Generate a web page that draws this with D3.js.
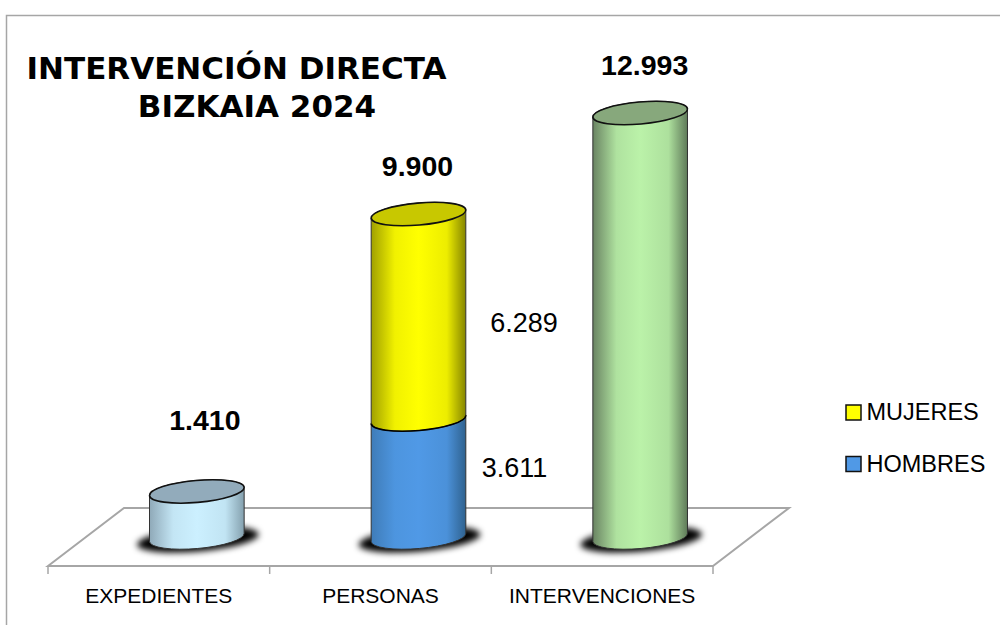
<!DOCTYPE html>
<html>
<head>
<meta charset="utf-8">
<script src="https://cdnjs.cloudflare.com/ajax/libs/d3/7.8.5/d3.min.js"></script>
<style>
  html, body { margin: 0; padding: 0; background: #fff; overflow: hidden; }
  text { fill: #000; }
</style>
</head>
<body>
<div id="chart"></div>
<script>
const categories = ['EXPEDIENTES', 'PERSONAS', 'INTERVENCIONES'];
const totals = [1410, 9900, 12993];
const hombres = [0, 3611, 0];
const mujeres = [0, 6289, 0];
const titleLines = ['INTERVENCIÓN DIRECTA', 'BIZKAIA 2024'];
const legendNames = ['MUJERES', 'HOMBRES'];

const fmt = v => d3.format(',')(v).replace(/,/g, '.');

const width = 1000, height = 625;
const svg = d3.select('#chart').append('svg')
    .attr('width', width)
    .attr('height', height)
    .style('display', 'block');

// side colours: edge left, centre, edge right, then the darker lid
const palette = {
    exp: ['#8fa9b8', '#ccf0ff', '#84a0ae', '#92abbb'],
    hom: ['#3f7cb8', '#5099e6', '#2f628f', '#3f7cb8'],
    muj: ['#a0a000', '#ffff00', '#858500', '#c8c800'],
    int: ['#6a8463', '#bbf2a9', '#5f7a59', '#87a87c']
};

const defs = svg.append('defs');
Object.keys(palette).forEach(k => {
    const g = defs.append('linearGradient').attr('id', 'side-' + k);
    const c = palette[k];
    [[0, c[0]], [0.25, d3.interpolateRgb(c[0], c[1])(0.85)], [0.5, c[1]], [0.8, d3.interpolateRgb(c[2], c[1])(0.85)], [1, c[2]]]
        .forEach(s => g.append('stop').attr('offset', s[0]).attr('stop-color', s[1]));
});
defs.append('filter').attr('id', 'blur')
    .attr('x', '-30%').attr('y', '-60%').attr('width', '160%').attr('height', '220%')
    .append('feGaussianBlur').attr('stdDeviation', 3);

// outer frame, only left and top show in the window
svg.append('path')
    .attr('d', 'M6.5,625V15.5H1000')
    .attr('fill', 'none')
    .attr('stroke', '#a6a6a6')
    .attr('stroke-width', 1.5);

// scales
const x = d3.scaleBand().domain(categories).range([48, 713]);
const y = d3.scaleLinear().domain([0, 12993]).range([537.5, 113]);

// floor of the 3d chart
const floorY = 566, backY = 508, depth = 76;
svg.append('path')
    .attr('d', `M${x.range()[0]},${floorY}L${x.range()[0] + depth},${backY}H${x.range()[1] + depth}L${x.range()[1]},${floorY}Z`)
    .attr('fill', '#fff')
    .attr('stroke', '#a6a6a6')
    .attr('stroke-width', 2);

const xAxis = d3.axisBottom(x).tickSize(0).tickPadding(0);
const axisG = svg.append('g')
    .attr('transform', `translate(0,${floorY})`)
    .call(xAxis);
axisG.select('.domain').remove();
axisG.selectAll('text')
    .attr('y', 22)
    .attr('dy', '0.71em')
    .attr('font-family', '"Liberation Sans", sans-serif')
    .attr('font-size', 21);

// tick marks sit on the band edges
const edges = categories.map(c => x(c)).concat(x.range()[1]);
svg.selectAll('.edge').data(edges).join('line')
    .attr('class', 'edge')
    .attr('x1', d => d).attr('x2', d => d)
    .attr('y1', floorY).attr('y2', floorY + 8)
    .attr('stroke', '#a6a6a6')
    .attr('stroke-width', 1.5);

// cylinder geometry
const rx = 47.5, ry = 11, tilt = -5;
const ex = rx * Math.cos(tilt * Math.PI / 180);
const ey = rx * Math.sin(tilt * Math.PI / 180);
const cx = c => x(c) + x.bandwidth() / 2 + depth / 2;
const arc = `${rx} ${ry} ${tilt}`;

function sidePath(c, yTop, yBottom) {
    const X = cx(c);
    return `M${X - ex},${yTop - ey}L${X - ex},${yBottom - ey}A${arc} 0 0 ${X + ex},${yBottom + ey}L${X + ex},${yTop + ey}A${arc} 0 0 ${X - ex},${yTop - ey}Z`;
}
function lidPath(c, yTop) {
    const X = cx(c);
    return `M${X - ex},${yTop - ey}A${arc} 1 1 ${X + ex},${yTop + ey}A${arc} 1 1 ${X - ex},${yTop - ey}Z`;
}

// each category gives one or two stacked pieces
const pieces = categories.map((c, i) => {
    if (hombres[i] > 0) {
        return [
            {c, from: 0, to: hombres[i], key: 'hom'},
            {c, from: hombres[i], to: hombres[i] + mujeres[i], key: 'muj'}
        ];
    }
    return [{c, from: 0, to: totals[i], key: i === 0 ? 'exp' : 'int'}];
});

const bars = svg.selectAll('.bar').data(pieces).join('g').attr('class', 'bar');

bars.append('ellipse')
    .attr('cx', d => cx(d[0].c) + 1)
    .attr('cy', y(0) + 2)
    .attr('rx', 61)
    .attr('ry', 12)
    .attr('transform', d => `rotate(${tilt} ${cx(d[0].c) + 1} ${y(0) + 2})`)
    .attr('fill', '#000')
    .attr('filter', 'url(#blur)');

bars.selectAll('.side').data(d => d).join('path')
    .attr('class', 'side')
    .attr('d', d => sidePath(d.c, y(d.to), y(d.from)))
    .attr('fill', d => `url(#side-${d.key})`)
    .attr('stroke', '#333')
    .attr('stroke-width', 1);

// black rim where blue meets yellow
bars.filter(d => d.length > 1).append('path')
    .attr('d', d => {
        const X = cx(d[0].c), b = y(d[0].to);
        return `M${X - ex},${b - ey}A${arc} 0 0 ${X + ex},${b + ey}`;
    })
    .attr('fill', 'none')
    .attr('stroke', '#000')
    .attr('stroke-width', 1.6);

bars.append('path')
    .attr('d', d => lidPath(d[0].c, y(d[d.length - 1].to)))
    .attr('fill', d => palette[d[d.length - 1].key][3])
    .attr('stroke', '#111')
    .attr('stroke-width', 1.6);

// totals above the cylinders
const totalLift = [61, 38, 38];
const totalShift = [8, -1, 4.5];
svg.selectAll('.total').data(categories).join('text')
    .attr('class', 'total')
    .attr('x', (c, i) => cx(c) + totalShift[i])
    .attr('y', (c, i) => y(totals[i]) - totalLift[i])
    .attr('text-anchor', 'middle')
    .attr('font-family', '"Liberation Sans", Arial, sans-serif')
    .attr('font-weight', 'bold')
    .attr('font-size', 28.5)
    .text((c, i) => fmt(totals[i]));

// piece values beside the stacked cylinder
const i2 = 1;
svg.append('text')
    .attr('x', cx(categories[i2]) + 105.5)
    .attr('y', y(hombres[i2] + mujeres[i2] / 2) + 15)
    .attr('text-anchor', 'middle')
    .attr('font-family', '"Liberation Sans", Arial, sans-serif')
    .attr('font-size', 27)
    .text(fmt(mujeres[i2]));
svg.append('text')
    .attr('x', cx(categories[i2]) + 96)
    .attr('y', y(hombres[i2] / 2) - 2)
    .attr('text-anchor', 'middle')
    .attr('font-family', '"Liberation Sans", Arial, sans-serif')
    .attr('font-size', 27)
    .text(fmt(hombres[i2]));

// title, second line is not centred under the first in the original
const titleX = [236.5, 257];
svg.selectAll('.title').data(titleLines).join('text')
    .attr('class', 'title')
    .attr('x', (d, i) => titleX[i])
    .attr('y', (d, i) => 79 + i * 38)
    .attr('text-anchor', 'middle')
    .attr('font-family', '"DejaVu Sans", Verdana, sans-serif')
    .attr('font-weight', 'bold')
    .attr('font-size', 31)
    .text(d => d);

// legend
const legend = svg.selectAll('.legend').data(legendNames).join('g')
    .attr('class', 'legend')
    .attr('transform', (d, i) => `translate(846,${405 + i * 51.5})`);
legend.append('rect')
    .attr('width', 15).attr('height', 15)
    .attr('fill', (d, i) => i === 0 ? palette.muj[1] : palette.hom[1])
    .attr('stroke', '#111')
    .attr('stroke-width', 1.5);
legend.append('text')
    .attr('x', 20.5)
    .attr('y', 15)
    .attr('font-family', '"Liberation Sans", sans-serif')
    .attr('font-size', 23.5)
    .text(d => d);
</script>
</body>
</html>
